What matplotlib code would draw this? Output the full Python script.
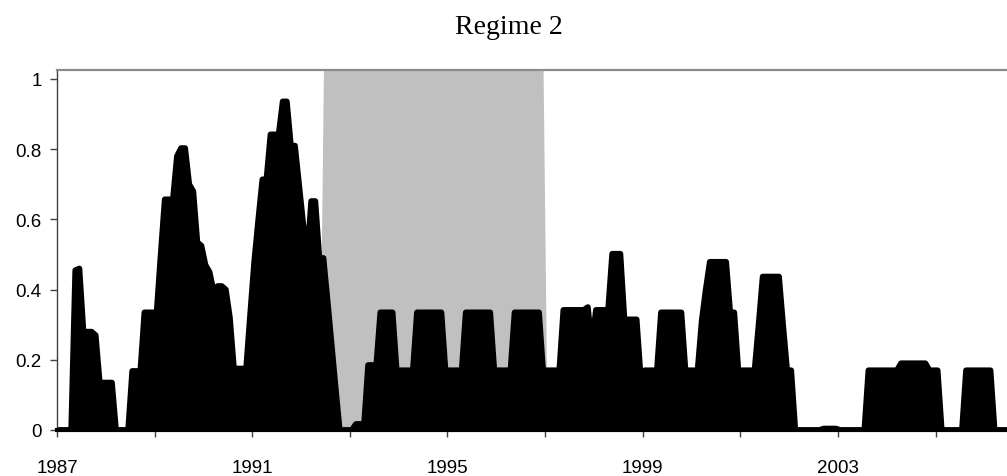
import numpy as np
import matplotlib
matplotlib.use("Agg")
import matplotlib.pyplot as plt

# ---- data (monthly probabilities, run-length encoded) ----
prob_levels = [0, 0.455, 0.46, 0.28, 0.27, 0.135, 0, 0.168, 0.335, 0.50,
               0.657, 0.78, 0.803, 0.70, 0.68, 0.535, 0.525, 0.47, 0.45, 0.395,
               0.41, 0.40, 0.32, 0.175, 0.33, 0.48, 0.60, 0.714, 0.842, 0.936,
               0.81, 0.70, 0.59, 0.49, 0.652, 0.49, 0.37, 0.245, 0.12, 0,
               0.017, 0.185, 0.335, 0.17, 0.335, 0.17, 0.335, 0.17, 0.335, 0.17,
               0.342, 0.35, 0.24, 0.342, 0.502, 0.315, 0.15, 0.17, 0.335, 0.17,
               0.31, 0.40, 0.479, 0.335, 0.17, 0.30, 0.437, 0.30, 0.17, 0,
               0.004, 0, 0.17, 0.19, 0.17, 0, 0.17, 0]
prob_months = [4, 1, 1, 3, 1, 4, 4, 3, 4, 1,
               3, 1, 2, 1, 1, 1, 1, 1, 1, 1,
               2, 1, 1, 4, 1, 1, 1, 2, 3, 2,
               2, 1, 1, 1, 2, 2, 1, 1, 1, 4,
               3, 3, 4, 5, 7, 5, 7, 5, 7, 5,
               6, 1, 1, 4, 3, 4, 1, 4, 6, 4,
               1, 1, 5, 2, 5, 1, 5, 1, 2, 7,
               4, 7, 8, 7, 3, 6, 7, 4]

# shaded regime period (indicator, run-length encoded)
shade_levels = [0, 1, 0]
shade_months = [65, 55, 114]

start_year = 1987
tick_years = [1987, 1989, 1991, 1993, 1995, 1997, 1999, 2001, 2003, 2005]
tick_labels = ['1987', '', '1991', '', '1995', '', '1999', '', '2003', '']
y_ticks = [0, 0.2, 0.4, 0.6, 0.8, 1.0]
y_labels = ['0', '0.2', '0.4', '0.6', '0.8', '1']
title = 'Regime 2'

# ---- build series ----
prob = np.repeat(prob_levels, prob_months)
shade = np.repeat(shade_levels, shade_months)
n = len(prob)
t = start_year + (np.arange(n) + 0.5) / 12.0

ymax = 1.0256
xmax = start_year + 950 / 48.81

fig = plt.figure(figsize=(10.07, 4.77), dpi=100)
ax = fig.add_axes([57 / 1007, 46 / 477, 950 / 1007, 360 / 477])

ax.fill_between(t, 0, shade * ymax, color='#C0C0C0', linewidth=0, zorder=1)
ax.fill_between(t, 0, prob, color='black', linewidth=0, zorder=2)
ax.plot(t, prob, color='black', linewidth=4.2, solid_joinstyle='round',
        solid_capstyle='round', zorder=3, clip_on=True)

ax.set_xlim(start_year, xmax)
ax.set_ylim(0, ymax)

ax.set_xticks(tick_years)
ax.set_xticklabels(tick_labels)
ax.set_yticks(y_ticks)
ax.set_yticklabels(y_labels)

for lab in ax.get_xticklabels() + ax.get_yticklabels():
    lab.set_fontfamily('Liberation Sans')
    lab.set_fontsize(13.5)

ax.tick_params(axis='x', direction='out', length=5, width=1, color='#404040', pad=16)
ax.tick_params(axis='y', direction='out', length=5, width=1, color='#404040', pad=6)

ax.spines['right'].set_visible(False)
ax.spines['top'].set_color('#8c8c8c')
ax.spines['top'].set_linewidth(1.6)
ax.spines['left'].set_color('#404040')
ax.spines['left'].set_linewidth(1.0)
ax.spines['bottom'].set_color('black')
ax.spines['bottom'].set_linewidth(3.0)
ax.spines['bottom'].set_zorder(4)

fig.text(509 / 1007, 1 - 27 / 477, title, ha='center', va='center',
         fontfamily='Liberation Serif', fontsize=20)

fig.savefig('out.png', dpi=100)
